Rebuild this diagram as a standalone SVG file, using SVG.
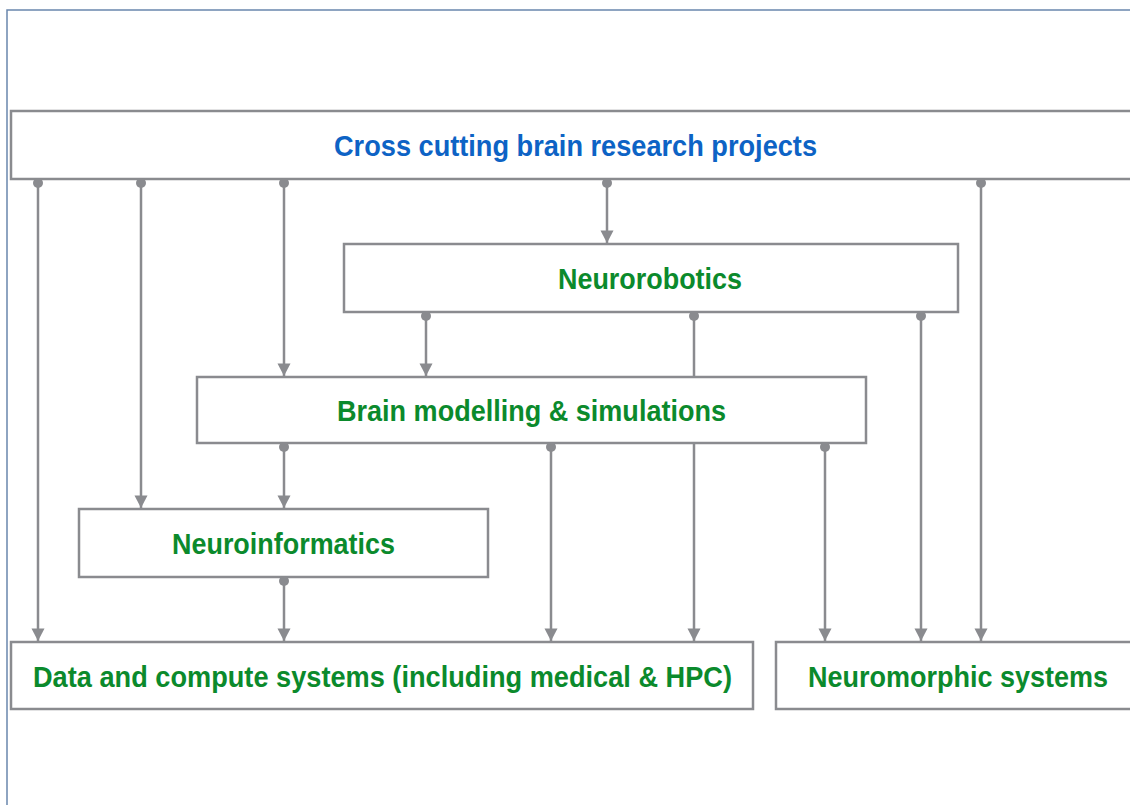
<svg xmlns="http://www.w3.org/2000/svg" width="1130" height="805" viewBox="0 0 1130 805">
  <style>
    .box { fill: #ffffff; stroke: #8a8b8f; stroke-width: 2.5; }
    .frame { fill: none; stroke: #6a86ad; stroke-width: 1.5; }
    .lbl { font-family: "Liberation Sans", Arial, sans-serif; font-weight: bold; font-size: 29px; text-anchor: middle; }
    .blue { fill: #0d63c5; }
    .green { fill: #0b8a2c; }
    .conn { fill: none; stroke: #8a8b8f; stroke-width: 2.5; marker-start: url(#dot); marker-end: url(#arrow); }
  </style>
  <defs>
    <marker id="arrow" markerUnits="userSpaceOnUse" markerWidth="14" markerHeight="14" viewBox="0 0 14 14" refX="7" refY="13" orient="0">
      <path d="M0.5,0.5 L13.5,0.5 L7,13 Z" fill="#8a8b8f"/>
    </marker>
    <marker id="dot" markerUnits="userSpaceOnUse" markerWidth="12" markerHeight="12" viewBox="0 0 12 12" refX="6" refY="3" orient="0">
      <circle cx="6" cy="6" r="5" fill="#8a8b8f"/>
    </marker>
  </defs>

  <path class="frame" d="M7,805 V10 H1130"/>

  <g id="node-cross">
    <rect class="box" x="11" y="111" width="1130" height="68"/>
    <text class="lbl blue" x="575.5" y="156" textLength="483" lengthAdjust="spacingAndGlyphs">Cross cutting brain research projects</text>
  </g>
  <g id="node-neurorobotics">
    <rect class="box" x="344" y="244" width="614" height="68"/>
    <text class="lbl green" x="650" y="289" textLength="184" lengthAdjust="spacingAndGlyphs">Neurorobotics</text>
  </g>
  <g id="node-brain">
    <rect class="box" x="197" y="377" width="669" height="66"/>
    <text class="lbl green" x="531.5" y="421" textLength="389" lengthAdjust="spacingAndGlyphs">Brain modelling &amp; simulations</text>
  </g>
  <g id="node-neuroinformatics">
    <rect class="box" x="79" y="509" width="409" height="68"/>
    <text class="lbl green" x="283.5" y="554" textLength="223" lengthAdjust="spacingAndGlyphs">Neuroinformatics</text>
  </g>
  <g id="node-data">
    <rect class="box" x="11" y="642" width="742" height="67"/>
    <text class="lbl green" x="382.5" y="687" textLength="699" lengthAdjust="spacingAndGlyphs">Data and compute systems (including medical &amp; HPC)</text>
  </g>
  <g id="node-neuromorphic">
    <rect class="box" x="776" y="642" width="365" height="67"/>
    <text class="lbl green" x="958" y="687" textLength="300" lengthAdjust="spacingAndGlyphs">Neuromorphic systems</text>
  </g>

  <g id="connectors">
    <path class="conn" d="M38,180 V641"/>
    <path class="conn" d="M141,180 V508"/>
    <path class="conn" d="M284,180 V376"/>
    <path class="conn" d="M607,180 V243"/>
    <path class="conn" d="M981,180 V641"/>
    <path class="conn" d="M426,313 V376"/>
    <path class="conn" d="M694,313 V377 M694,444 V641"/>
    <path class="conn" d="M921,313 V641"/>
    <path class="conn" d="M284,444 V508"/>
    <path class="conn" d="M551,444 V641"/>
    <path class="conn" d="M825,444 V641"/>
    <path class="conn" d="M284,578 V641"/>
  </g>
</svg>
